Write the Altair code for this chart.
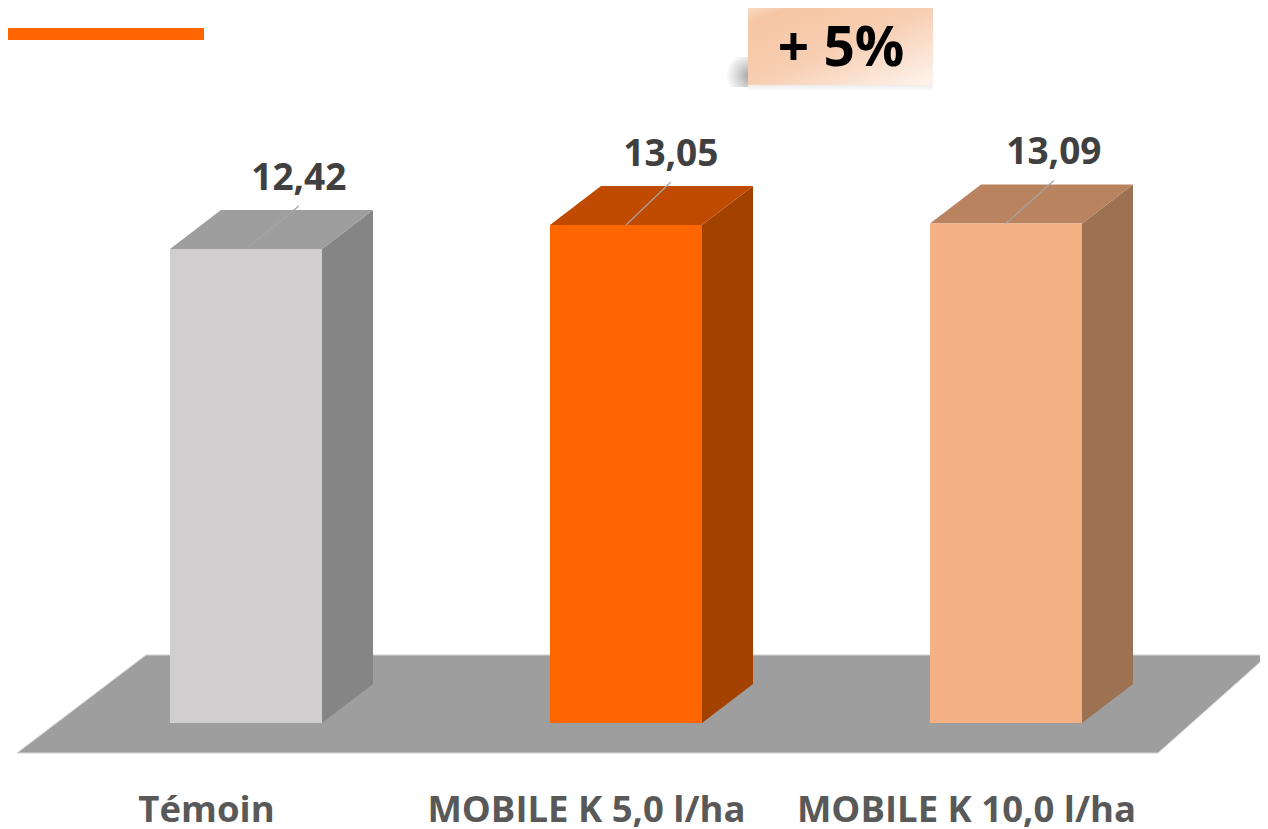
import altair as alt
import pandas as pd

categories = ["Témoin", "MOBILE K 5,0 l/ha", "MOBILE K 10,0 l/ha"]
values = [12.42, 13.05, 13.09]
value_labels = ["12,42", "13,05", "13,09"]
front_colors = ["#d0cece", "#ff6600", "#f4b183"]
side_colors = ["#868585", "#a34100", "#9c7253"]
top_colors = ["#9e9e9e", "#c04b00", "#b98360"]
label_shift = [0.139, 0.118, 0.126]
badge_text = "+ 5%"

W, H = 1252, 821
PX_X, PX_Y = 380.0, 38.16          # pixels per slot / per unit of value
HALF = 76 / PX_X
DEPTH_X, DEPTH_Y = 51 / PX_X, 39 / PX_Y
x_scale = alt.Scale(domain=[-238 / PX_X, (W - 238) / PX_X], nice=False, zero=False)
y_scale = alt.Scale(domain=[-(H - 715) / PX_Y, 715 / PX_Y], nice=False, zero=False)
X = lambda f, **k: alt.X(f, type="quantitative", scale=x_scale, axis=None, title=None, **k)
Y = lambda f, **k: alt.Y(f, type="quantitative", scale=y_scale, axis=None, title=None, **k)

rows = [dict(i=i, cat=c, v=v, label=l, front=fc, side=sc, top=tc, shift=s)
        for i, (c, v, l, fc, sc, tc, s) in enumerate(
            zip(categories, values, value_labels, front_colors, side_colors, top_colors, label_shift))]
bars = pd.DataFrame(rows)
bars["x0"] = bars.i - HALF
bars["x1"] = bars.i + HALF
bars["zero"] = 0.0
bars["lx"] = bars.i + bars["shift"]
bars["ly"] = bars.v + 70 / PX_Y
bars["tip"] = bars.v + 43 / PX_Y
bars["cat_x"] = bars.i - 39.5 / PX_X
bars["cat_y"] = -87.5 / PX_Y

side = pd.DataFrame([
    dict(cat=r["cat"], color=r["side"], x=r["i"] + HALF + d * DEPTH_X,
         y=d * DEPTH_Y, y2=r["v"] + d * DEPTH_Y)
    for r in rows for d in (0, 1)])
top = pd.DataFrame([
    dict(cat=r["cat"], color=r["top"], y=r["v"] + d * DEPTH_Y,
         x=r["i"] - HALF + d * DEPTH_X, x2=r["i"] + HALF + d * DEPTH_X)
    for r in rows for d in (0, 1)])
floor = pd.DataFrame({
    "y": [-30 / PX_Y, 68 / PX_Y],
    "x": [-229 / PX_X, -100 / PX_X],
    "x2": [912 / PX_X, 1022 / PX_X],
})

floor_layer = alt.Chart(floor).mark_area(
    orient="horizontal", color="#9e9e9e", stroke="#d4d4d4", strokeWidth=1
).encode(y=Y("y"), x=X("x"), x2="x2")

side_layer = alt.Chart(side).mark_area(orient="vertical").encode(
    x=X("x"), y=Y("y"), y2="y2", detail="cat:N", color=alt.Color("color:N", scale=None))
top_layer = alt.Chart(top).mark_area(orient="horizontal").encode(
    y=Y("y"), x=X("x"), x2="x2", detail="cat:N", color=alt.Color("color:N", scale=None))
front_layer = alt.Chart(bars).mark_rect().encode(
    x=X("x0"), x2="x1", y=Y("zero"), y2="v", color=alt.Color("front:N", scale=None))
leader_layer = alt.Chart(bars).mark_rule(color="#a6a6a6", strokeWidth=1.2).encode(
    x=X("i"), x2="lx", y=Y("v"), y2="tip")
value_layer = alt.Chart(bars).mark_text(
    font="Open Sans", fontWeight="bold", fontSize=37, color="#404040",
    align="center", baseline="middle"
).encode(x=X("lx"), y=Y("ly"), text="label:N")
cat_layer = alt.Chart(bars).mark_text(
    font="Open Sans", fontWeight="bold", fontSize=36.5, color="#595959",
    align="center", baseline="middle"
).encode(x=X("cat_x"), y=Y("cat_y"), text="cat:N")

one = pd.DataFrame({"a": [0]})
accent = alt.Chart(one).mark_rect(color="#ff6600").encode(
    x=alt.value(0), x2=alt.value(196), y=alt.value(20), y2=alt.value(32))
shadow_side = alt.Chart(one).mark_rect(
    color=alt.RadialGradient(
        gradient="radial", x1=1, y1=0.62, r1=0, x2=1, y2=0.62, r2=0.8,
        stops=[alt.GradientStop(offset=0, color="#a2a2a2"),
               alt.GradientStop(offset=0.45, color="#cfcfcf"),
               alt.GradientStop(offset=1, color="#ffffff")])
).encode(x=alt.value(712), x2=alt.value(742), y=alt.value(49), y2=alt.value(79))
shadow_under = alt.Chart(one).mark_rect(
    color=alt.LinearGradient(
        gradient="linear", x1=0, y1=0, x2=0, y2=1,
        stops=[alt.GradientStop(offset=0, color="#ececec"),
               alt.GradientStop(offset=1, color="#ffffff")])
).encode(x=alt.value(740), x2=alt.value(925), y=alt.value(77), y2=alt.value(83))
badge = alt.Chart(one).mark_rect(
    color=alt.LinearGradient(
        gradient="linear", x1=0, y1=0, x2=1, y2=1,
        stops=[alt.GradientStop(offset=0, color="#f9dcc6"),
               alt.GradientStop(offset=0.12, color="#f6c6a4"),
               alt.GradientStop(offset=0.5, color="#f7ceb1"),
               alt.GradientStop(offset=1, color="#fef4ee")])
).encode(x=alt.value(740), x2=alt.value(925), y=alt.value(-2), y2=alt.value(77))
badge_label = alt.Chart(pd.DataFrame({"t": [badge_text]})).mark_text(
    font="Open Sans", fontWeight="bold", fontSize=55, color="#000000",
    align="center", baseline="middle"
).encode(x=alt.value(833), y=alt.value(41), text="t:N")

chart = alt.layer(
    floor_layer, side_layer, top_layer, front_layer, leader_layer, value_layer, cat_layer,
    accent, shadow_side, shadow_under, badge, badge_label
).properties(
    width=W, height=H, padding=0, autosize="none"
).configure_view(stroke=None)

chart.save("out.html", embed_options={"renderer": "svg", "actions": False})
